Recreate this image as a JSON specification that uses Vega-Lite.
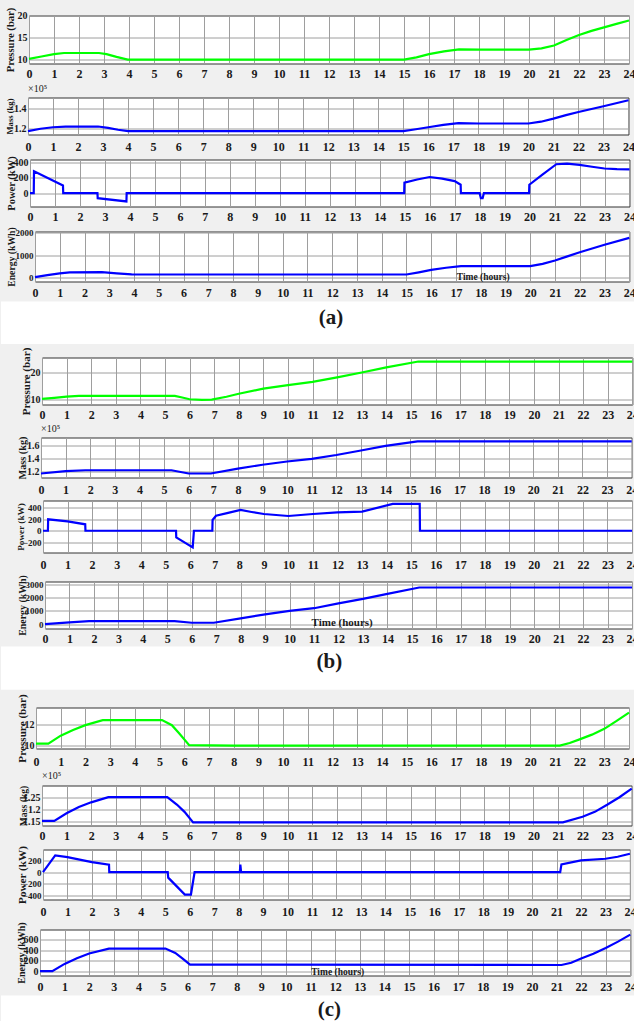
{
  "$schema": "https://vega.github.io/schema/vega-lite/v6.json",
  "padding": {"left": 0, "top": 6.5, "right": 0, "bottom": 0},
  "background": "#f0f0f0",
  "spacing": 2,
  "datasets": {
    "pa": [{"t":0,"v":10.2},{"t":0.5,"v":10.75},{"t":1,"v":11.3},{"t":1.4,"v":11.55},{"t":2.8,"v":11.55},{"t":3.1,"v":11.3},{"t":3.5,"v":10.65},{"t":3.95,"v":10.02},{"t":15,"v":10.02},{"t":15.5,"v":10.55},{"t":16,"v":11.3},{"t":16.6,"v":11.9},{"t":17.2,"v":12.35},{"t":18,"v":12.3},{"t":20,"v":12.3},{"t":20.5,"v":12.6},{"t":21,"v":13.25},{"t":21.5,"v":14.5},{"t":22,"v":15.65},{"t":22.5,"v":16.6},{"t":23,"v":17.4},{"t":23.5,"v":18.2},{"t":24,"v":18.95}],
    "ma": [{"t":0,"v":1.176},{"t":0.5,"v":1.2},{"t":1,"v":1.215},{"t":1.5,"v":1.222},{"t":2.8,"v":1.222},{"t":3.2,"v":1.208},{"t":3.6,"v":1.19},{"t":4,"v":1.176},{"t":15,"v":1.176},{"t":15.5,"v":1.195},{"t":16,"v":1.215},{"t":16.6,"v":1.238},{"t":17.2,"v":1.256},{"t":18,"v":1.252},{"t":20,"v":1.252},{"t":20.5,"v":1.27},{"t":21,"v":1.3},{"t":21.5,"v":1.335},{"t":22,"v":1.366},{"t":23,"v":1.423},{"t":24,"v":1.483}],
    "wa": [{"t":0,"v":0},{"t":0.15,"v":0},{"t":0.16,"v":285},{"t":1.32,"v":101},{"t":1.33,"v":0},{"t":2.7,"v":0},{"t":2.71,"v":-66},{"t":3.86,"v":-109},{"t":3.87,"v":0},{"t":14.98,"v":0},{"t":14.99,"v":137},{"t":15.5,"v":178},{"t":16,"v":211},{"t":16.5,"v":190},{"t":17,"v":158},{"t":17.24,"v":110},{"t":17.25,"v":0},{"t":18,"v":0},{"t":18.05,"v":-66},{"t":18.12,"v":-66},{"t":18.17,"v":0},{"t":19.98,"v":0},{"t":19.99,"v":110},{"t":20.5,"v":240},{"t":21.07,"v":378},{"t":21.5,"v":387},{"t":22,"v":370},{"t":22.5,"v":345},{"t":23,"v":322},{"t":23.5,"v":314},{"t":24,"v":311}],
    "ea": [{"t":0,"v":0},{"t":0.5,"v":90},{"t":1,"v":170},{"t":1.4,"v":220},{"t":2.7,"v":225},{"t":3.3,"v":170},{"t":3.9,"v":122},{"t":15,"v":120},{"t":15.5,"v":220},{"t":16,"v":330},{"t":16.6,"v":425},{"t":17.2,"v":495},{"t":20,"v":495},{"t":20.5,"v":600},{"t":21,"v":752},{"t":21.5,"v":940},{"t":22,"v":1126},{"t":23,"v":1460},{"t":24,"v":1775}],
    "pb": [{"t":0,"v":10.2},{"t":0.5,"v":10.6},{"t":1,"v":11.0},{"t":1.5,"v":11.3},{"t":5.4,"v":11.3},{"t":5.7,"v":10.7},{"t":6,"v":10.05},{"t":6.5,"v":9.85},{"t":6.9,"v":9.95},{"t":7.5,"v":11.0},{"t":8,"v":12.1},{"t":9,"v":14.0},{"t":10,"v":15.3},{"t":11,"v":16.5},{"t":12,"v":18.2},{"t":13,"v":20.0},{"t":14,"v":21.9},{"t":15.3,"v":24.1},{"t":24,"v":24.1}],
    "mb": [{"t":0,"v":1.165},{"t":1,"v":1.2},{"t":1.8,"v":1.215},{"t":5.3,"v":1.215},{"t":6,"v":1.165},{"t":6.9,"v":1.165},{"t":8,"v":1.24},{"t":9,"v":1.3},{"t":10,"v":1.35},{"t":11,"v":1.39},{"t":12,"v":1.45},{"t":13,"v":1.52},{"t":14,"v":1.59},{"t":15.3,"v":1.66},{"t":24,"v":1.66}],
    "wb": [{"t":0,"v":0},{"t":0.2,"v":0},{"t":0.21,"v":195},{"t":1,"v":160},{"t":1.72,"v":110},{"t":1.73,"v":0},{"t":5.42,"v":0},{"t":5.43,"v":-113},{"t":6.1,"v":-284},{"t":6.15,"v":0},{"t":6.9,"v":0},{"t":6.91,"v":183},{"t":7.05,"v":256},{"t":7.5,"v":300},{"t":8.05,"v":354},{"t":8.5,"v":320},{"t":9,"v":285},{"t":10,"v":251},{"t":11,"v":285},{"t":12,"v":314},{"t":13,"v":325},{"t":14.25,"v":457},{"t":15.35,"v":457},{"t":15.36,"v":0},{"t":24,"v":0}],
    "eb": [{"t":0,"v":0},{"t":1,"v":123},{"t":1.8,"v":230},{"t":5.3,"v":230},{"t":6,"v":100},{"t":6.9,"v":100},{"t":8,"v":430},{"t":9,"v":738},{"t":10,"v":1000},{"t":11,"v":1210},{"t":12,"v":1585},{"t":13,"v":1923},{"t":14,"v":2308},{"t":15.3,"v":2792},{"t":24,"v":2792}],
    "pc": [{"t":0,"v":10.15},{"t":0.5,"v":10.15},{"t":1,"v":10.9},{"t":1.5,"v":11.45},{"t":2,"v":11.9},{"t":2.7,"v":12.38},{"t":5.1,"v":12.38},{"t":5.5,"v":11.9},{"t":5.8,"v":11.1},{"t":6.2,"v":10.0},{"t":8,"v":9.95},{"t":21.2,"v":9.95},{"t":21.6,"v":10.2},{"t":22,"v":10.55},{"t":22.5,"v":11.0},{"t":23,"v":11.55},{"t":23.5,"v":12.3},{"t":24,"v":13.1}],
    "mc": [{"t":0,"v":1.153},{"t":0.5,"v":1.153},{"t":1,"v":1.184},{"t":1.5,"v":1.21},{"t":2,"v":1.229},{"t":2.7,"v":1.25},{"t":5.1,"v":1.25},{"t":5.5,"v":1.219},{"t":5.8,"v":1.19},{"t":6.15,"v":1.147},{"t":21.2,"v":1.147},{"t":22,"v":1.17},{"t":22.5,"v":1.19},{"t":23,"v":1.219},{"t":23.5,"v":1.25},{"t":24,"v":1.285}],
    "wc": [{"t":0,"v":0},{"t":0.5,"v":288},{"t":1,"v":259},{"t":2,"v":172},{"t":2.7,"v":128},{"t":2.71,"v":0},{"t":5.1,"v":0},{"t":5.12,"v":-97},{"t":5.8,"v":-390},{"t":6.05,"v":-390},{"t":6.2,"v":0},{"t":8.05,"v":0},{"t":8.07,"v":128},{"t":8.1,"v":0},{"t":21.15,"v":0},{"t":21.2,"v":133},{"t":22,"v":202},{"t":23,"v":231},{"t":23.5,"v":265},{"t":24,"v":317}],
    "ec": [{"t":0,"v":0},{"t":0.5,"v":0},{"t":1,"v":138},{"t":1.5,"v":245},{"t":2,"v":334},{"t":2.8,"v":428},{"t":5.1,"v":428},{"t":5.5,"v":345},{"t":5.8,"v":240},{"t":6.1,"v":126},{"t":21.2,"v":118},{"t":21.6,"v":160},{"t":22,"v":240},{"t":22.5,"v":330},{"t":23,"v":440},{"t":23.5,"v":560},{"t":24,"v":692}]
  },
  "vconcat": [
    {"spacing": 0, "hconcat": [
      {"width": 2.5, "height": 1, "data": {"values": []}, "mark": "text", "encoding": {}, "view": {"fill": "transparent", "stroke": "transparent"}},
      {
        "width": 600, "height": 48,
        "data": {"name": "pa"},
        "mark": {"type": "line", "color": "#00ff00"},
        "encoding": {
          "x": {"field": "t", "type": "quantitative", "scale": {"domain": [0, 24], "nice": false, "zero": false}, "axis": {"values": [0,1,2,3,4,5,6,7,8,9,10,11,12,13,14,15,16,17,18,19,20,21,22,23,24], "title": null, "labelPadding": 5.3}},
          "y": {"field": "v", "type": "quantitative", "scale": {"domain": [9.15, 20.1], "nice": false, "zero": false}, "axis": {"values": [10, 15, 20], "format": ".6~g", "title": "Pressure (bar)", "titleFontSize": 10.6, "titleX": -24, "titleY": 24}}
        }
      }
    ]},
    {"spacing": 0, "hconcat": [
      {"width": 3.5, "height": 1, "data": {"values": []}, "mark": "text", "encoding": {}, "view": {"fill": "transparent", "stroke": "transparent"}},
      {
        "width": 600.5, "height": 37,
        "title": {"text": "×10⁵", "offset": 2.2},
        "data": {"name": "ma"},
        "mark": {"type": "line", "color": "#0000ff"},
        "encoding": {
          "x": {"field": "t", "type": "quantitative", "scale": {"domain": [0, 24], "nice": false, "zero": false}, "axis": {"values": [0,1,2,3,4,5,6,7,8,9,10,11,12,13,14,15,16,17,18,19,20,21,22,23,24], "title": null, "labelPadding": 6.5}},
          "y": {"field": "v", "type": "quantitative", "scale": {"domain": [1.143, 1.51], "nice": false, "zero": false}, "axis": {"values": [1.2, 1.4], "format": ".6~g", "title": "Mass (kg)", "titleFontSize": 8.6, "titleX": -22.5, "titleY": 18.5}}
        }
      }
    ]},
    {"spacing": 0, "hconcat": [
      {"width": 3.55, "height": 1, "data": {"values": []}, "mark": "text", "encoding": {}, "view": {"fill": "transparent", "stroke": "transparent"}},
      {
        "width": 599.5, "height": 47,
        "data": {"name": "wa"},
        "mark": {"type": "line", "color": "#0000ff"},
        "encoding": {
          "x": {"field": "t", "type": "quantitative", "scale": {"domain": [0, 24], "nice": false, "zero": false}, "axis": {"values": [0,1,2,3,4,5,6,7,8,9,10,11,12,13,14,15,16,17,18,19,20,21,22,23,24], "title": null, "labelPadding": 5.05}},
          "y": {"field": "v", "type": "quantitative", "scale": {"domain": [-175, 440], "nice": false, "zero": false}, "axis": {"values": [0, 200, 400], "format": ".6~g", "title": "Power (kW)", "titleFontSize": 10.5, "titleX": -23.45, "titleY": 23.5}}
        }
      }
    ]},
    {"spacing": 0, "hconcat": [
      {"width": 3.95, "height": 1, "data": {"values": []}, "mark": "text", "encoding": {}, "view": {"fill": "transparent", "stroke": "transparent"}},
      {
        "width": 594.3, "height": 50,
        "layer": [
          {
            "data": {"name": "ea"},
            "mark": {"type": "line", "color": "#0000ff"},
            "encoding": {
              "x": {"field": "t", "type": "quantitative", "scale": {"domain": [0, 24], "nice": false, "zero": false}, "axis": {"values": [0,1,2,3,4,5,6,7,8,9,10,11,12,13,14,15,16,17,18,19,20,21,22,23,24], "title": null, "labelPadding": 5.6}},
              "y": {"field": "v", "type": "quantitative", "scale": {"domain": [-195, 2060], "nice": false, "zero": false}, "axis": {"values": [0, 1000, 2000], "format": ".6~g", "labelFontSize": 9, "title": "Energy (kWh)", "titleFontSize": 9.7, "titleX": -28.25, "titleY": 25}}
            }
          },
          {
            "data": {"values": [{"label": "Time (hours)"}]},
            "mark": {"type": "text", "fontSize": 9.5, "clip": false},
            "encoding": {
              "x": {"datum": 18.1, "type": "quantitative", "scale": {"domain": [0, 24], "nice": false, "zero": false}, "axis": {"values": [0,1,2,3,4,5,6,7,8,9,10,11,12,13,14,15,16,17,18,19,20,21,22,23,24], "title": null, "labelPadding": 5.6}},
              "y": {"datum": 30, "type": "quantitative", "scale": {"domain": [-195, 2060], "nice": false, "zero": false}, "axis": {"values": [0, 1000, 2000], "format": ".6~g", "labelFontSize": 9, "title": "Energy (kWh)", "titleFontSize": 9.7, "titleX": -28.25, "titleY": 25}},
              "text": {"field": "label"}
            }
          }
        ]
      }
    ]},
    {
      "width": 634, "height": 42.55,
      "data": {"values": [{"label": "(a)"}]},
      "view": {"fill": "white", "stroke": null},
      "mark": {"type": "text", "fontSize": 21, "dx": 13, "dy": -4.9},
      "encoding": {"text": {"field": "label"}}
    },
    {"spacing": 0, "hconcat": [
      {"width": 16.65, "height": 1, "data": {"values": []}, "mark": "text", "encoding": {}, "view": {"fill": "transparent", "stroke": "transparent"}},
      {
        "width": 590.3, "height": 47,
        "data": {"name": "pb"},
        "mark": {"type": "line", "color": "#00ff00"},
        "encoding": {
          "x": {"field": "t", "type": "quantitative", "scale": {"domain": [0, 24], "nice": false, "zero": false}, "axis": {"values": [0,1,2,3,4,5,6,7,8,9,10,11,12,13,14,15,16,17,18,19,20,21,22,23,24], "title": null, "labelPadding": 5.1}},
          "y": {"field": "v", "type": "quantitative", "scale": {"domain": [8.1, 25.6], "nice": false, "zero": false}, "axis": {"values": [10, 20], "format": ".6~g", "title": "Pressure (bar)", "titleFontSize": 11.1, "titleX": -21.55, "titleY": 23.5}}
        }
      }
    ]},
    {"spacing": 0, "hconcat": [
      {"width": 15.375, "height": 1, "data": {"values": []}, "mark": "text", "encoding": {}, "view": {"fill": "transparent", "stroke": "transparent"}},
      {
        "width": 590.7, "height": 40,
        "title": {"text": "×10⁵", "offset": 2.0},
        "data": {"name": "mb"},
        "mark": {"type": "line", "color": "#0000ff"},
        "encoding": {
          "x": {"field": "t", "type": "quantitative", "scale": {"domain": [0, 24], "nice": false, "zero": false}, "axis": {"values": [0,1,2,3,4,5,6,7,8,9,10,11,12,13,14,15,16,17,18,19,20,21,22,23,24], "title": null, "labelPadding": 7}},
          "y": {"field": "v", "type": "quantitative", "scale": {"domain": [1.103, 1.72], "nice": false, "zero": false}, "axis": {"values": [1.2, 1.4, 1.6], "format": ".6~g", "title": "Mass (kg)", "titleFontSize": 10.25, "titleX": -23.425, "titleY": 20}}
        }
      }
    ]},
    {"spacing": 0, "hconcat": [
      {"width": 14.2, "height": 1, "data": {"values": []}, "mark": "text", "encoding": {}, "view": {"fill": "transparent", "stroke": "transparent"}},
      {
        "width": 589, "height": 52,
        "data": {"name": "wb"},
        "mark": {"type": "line", "color": "#0000ff"},
        "encoding": {
          "x": {"field": "t", "type": "quantitative", "scale": {"domain": [0, 24], "nice": false, "zero": false}, "axis": {"values": [0,1,2,3,4,5,6,7,8,9,10,11,12,13,14,15,16,17,18,19,20,21,22,23,24], "title": null, "labelPadding": 6.8}},
          "y": {"field": "v", "type": "quantitative", "scale": {"domain": [-370, 515], "nice": false, "zero": false}, "axis": {"values": [-200, 0, 200, 400], "format": ".6~g", "labelFontSize": 9, "title": "Power (kW)", "titleFontSize": 9.2, "titleX": -26.3, "titleY": 26}}
        }
      }
    ]},
    {"spacing": 0, "hconcat": [
      {"width": 13.85, "height": 1, "data": {"values": []}, "mark": "text", "encoding": {}, "view": {"fill": "transparent", "stroke": "transparent"}},
      {
        "width": 587, "height": 47,
        "layer": [
          {
            "data": {"name": "eb"},
            "mark": {"type": "line", "color": "#0000ff"},
            "encoding": {
              "x": {"field": "t", "type": "quantitative", "scale": {"domain": [0, 24], "nice": false, "zero": false}, "axis": {"values": [0,1,2,3,4,5,6,7,8,9,10,11,12,13,14,15,16,17,18,19,20,21,22,23,24], "title": null, "labelPadding": 4.5}},
              "y": {"field": "v", "type": "quantitative", "scale": {"domain": [-340, 3250], "nice": false, "zero": false}, "axis": {"values": [0, 1000, 2000, 3000], "format": ".6~g", "labelFontSize": 9, "title": "Energy (kWh)", "titleFontSize": 9.9, "titleX": -27.65, "titleY": 23.5}}
            }
          },
          {
            "data": {"values": [{"label": "Time (hours)"}]},
            "mark": {"type": "text", "fontSize": 11, "clip": false},
            "encoding": {
              "x": {"datum": 12.15, "type": "quantitative", "scale": {"domain": [0, 24], "nice": false, "zero": false}, "axis": {"values": [0,1,2,3,4,5,6,7,8,9,10,11,12,13,14,15,16,17,18,19,20,21,22,23,24], "title": null, "labelPadding": 4.5}},
              "y": {"datum": 100, "type": "quantitative", "scale": {"domain": [-340, 3250], "nice": false, "zero": false}, "axis": {"values": [0, 1000, 2000, 3000], "format": ".6~g", "labelFontSize": 9, "title": "Energy (kWh)", "titleFontSize": 9.9, "titleX": -27.65, "titleY": 23.5}},
              "text": {"field": "label"}
            }
          }
        ]
      }
    ]},
    {
      "width": 634, "height": 43.33,
      "data": {"values": [{"label": "(b)"}]},
      "view": {"fill": "white", "stroke": null},
      "mark": {"type": "text", "fontSize": 21, "dx": 11.3, "dy": -6.5},
      "encoding": {"text": {"field": "label"}}
    },
    {"spacing": 0, "hconcat": [
      {"width": 13.2, "height": 1, "data": {"values": []}, "mark": "text", "encoding": {}, "view": {"fill": "transparent", "stroke": "transparent"}},
      {
        "width": 593, "height": 41,
        "data": {"name": "pc"},
        "mark": {"type": "line", "color": "#00ff00"},
        "encoding": {
          "x": {"field": "t", "type": "quantitative", "scale": {"domain": [0, 24], "nice": false, "zero": false}, "axis": {"values": [0,1,2,3,4,5,6,7,8,9,10,11,12,13,14,15,16,17,18,19,20,21,22,23,24], "title": null, "labelPadding": 7.6}},
          "y": {"field": "v", "type": "quantitative", "scale": {"domain": [9.68, 13.58], "nice": false, "zero": false}, "axis": {"values": [10, 12], "format": ".6~g", "title": "Pressure (bar)", "titleFontSize": 11.2, "titleX": -20, "titleY": 20.5}}
        }
      }
    ]},
    {"spacing": 0, "hconcat": [
      {"width": 15.65, "height": 1, "data": {"values": []}, "mark": "text", "encoding": {}, "view": {"fill": "transparent", "stroke": "transparent"}},
      {
        "width": 589.7, "height": 40,
        "title": {"text": "×10⁵", "offset": 3.2},
        "data": {"name": "mc"},
        "mark": {"type": "line", "color": "#0000ff"},
        "encoding": {
          "x": {"field": "t", "type": "quantitative", "scale": {"domain": [0, 24], "nice": false, "zero": false}, "axis": {"values": [0,1,2,3,4,5,6,7,8,9,10,11,12,13,14,15,16,17,18,19,20,21,22,23,24], "title": null, "labelPadding": 5.3}},
          "y": {"field": "v", "type": "quantitative", "scale": {"domain": [1.134, 1.298], "nice": false, "zero": false}, "axis": {"values": [1.15, 1.2, 1.25], "format": ".6~g", "title": "Mass (kg)", "titleFontSize": 9.7, "titleX": -23.15, "titleY": 20}}
        }
      }
    ]},
    {"spacing": 0, "hconcat": [
      {"width": 13.2, "height": 1, "data": {"values": []}, "mark": "text", "encoding": {}, "view": {"fill": "transparent", "stroke": "transparent"}},
      {
        "width": 586.9, "height": 50,
        "data": {"name": "wc"},
        "mark": {"type": "line", "color": "#0000ff"},
        "encoding": {
          "x": {"field": "t", "type": "quantitative", "scale": {"domain": [0, 24], "nice": false, "zero": false}, "axis": {"values": [0,1,2,3,4,5,6,7,8,9,10,11,12,13,14,15,16,17,18,19,20,21,22,23,24], "title": null, "labelPadding": 7.2}},
          "y": {"field": "v", "type": "quantitative", "scale": {"domain": [-476, 391], "nice": false, "zero": false}, "axis": {"values": [-400, -200, 0, 200], "format": ".6~g", "labelFontSize": 9, "title": "Power (kW)", "titleFontSize": 11.2, "titleX": -26.6, "titleY": 25}}
        }
      }
    ]},
    {"spacing": 0, "hconcat": [
      {"width": 13.8, "height": 1, "data": {"values": []}, "mark": "text", "encoding": {}, "view": {"fill": "transparent", "stroke": "transparent"}},
      {
        "width": 590.3, "height": 46,
        "layer": [
          {
            "data": {"name": "ec"},
            "mark": {"type": "line", "color": "#0000ff"},
            "encoding": {
              "x": {"field": "t", "type": "quantitative", "scale": {"domain": [0, 24], "nice": false, "zero": false}, "axis": {"values": [0,1,2,3,4,5,6,7,8,9,10,11,12,13,14,15,16,17,18,19,20,21,22,23,24], "title": null, "labelPadding": 5.8}},
              "y": {"field": "v", "type": "quantitative", "scale": {"domain": [-81, 789], "nice": false, "zero": false}, "axis": {"values": [0, 200, 400, 600], "format": ".6~g", "title": "Energy (kWh)", "titleFontSize": 10, "titleX": -23.4, "titleY": 23}}
            }
          },
          {
            "data": {"values": [{"label": "Time (hours)"}]},
            "mark": {"type": "text", "fontSize": 9.5, "clip": false},
            "encoding": {
              "x": {"datum": 12.1, "type": "quantitative", "scale": {"domain": [0, 24], "nice": false, "zero": false}, "axis": {"values": [0,1,2,3,4,5,6,7,8,9,10,11,12,13,14,15,16,17,18,19,20,21,22,23,24], "title": null, "labelPadding": 5.8}},
              "y": {"datum": -19, "type": "quantitative", "scale": {"domain": [-81, 789], "nice": false, "zero": false}, "axis": {"values": [0, 200, 400, 600], "format": ".6~g", "title": "Energy (kWh)", "titleFontSize": 10, "titleX": -23.4, "titleY": 23}},
              "text": {"field": "label"}
            }
          }
        ]
      }
    ]},
    {
      "width": 634, "height": 25.9,
      "data": {"values": [{"label": "(c)"}]},
      "view": {"fill": "white", "stroke": null},
      "mark": {"type": "text", "fontSize": 21, "dx": 11.3, "dy": 2},
      "encoding": {"text": {"field": "label"}}
    }
  ],
  "config": {
    "view": {"fill": "white", "stroke": "#333333", "strokeWidth": 1},
    "axis": {"grid": true, "gridColor": "#9e9e9e", "gridWidth": 1, "domain": false, "ticks": false, "tickSize": 0, "labelFont": "Liberation Serif", "labelFontWeight": "bold", "labelColor": "#1a1a1a", "titleFont": "Liberation Serif", "titleFontWeight": "bold", "titleColor": "#1a1a1a", "labelOverlap": false, "labelFlush": false, "labelBound": false},
    "axisX": {"labelFontSize": 12, "labelAngle": 0},
    "axisY": {"labelFontSize": 10, "labelPadding": 2, "titleAngle": 270, "titleAlign": "center", "titleBaseline": "top"},
    "title": {"font": "Liberation Serif", "fontWeight": "normal", "fontSize": 10, "color": "#1a1a1a", "anchor": "start", "frame": "group"},
    "text": {"font": "Liberation Serif", "fontWeight": "bold", "color": "#1a1a1a"},
    "line": {"strokeWidth": 2.2, "clip": true}
  }
}
